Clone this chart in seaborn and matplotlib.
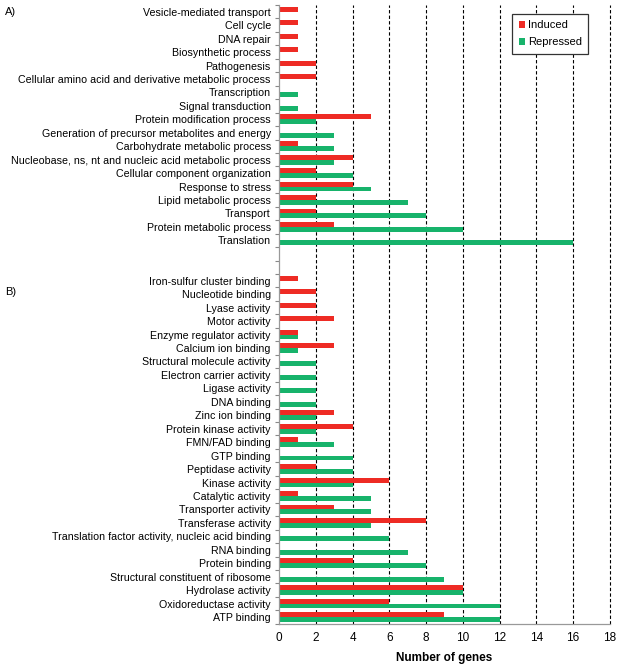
import matplotlib
matplotlib.use("Agg")
import matplotlib.pyplot as plt
import matplotlib.transforms as mtransforms
import numpy as np
import pandas as pd
import seaborn as sns

# A) biological process
categorias_a = ["Vesicle-mediated transport", "Cell cycle", "DNA repair",
                "Biosynthetic process", "Pathogenesis",
                "Cellular amino acid and derivative metabolic process",
                "Transcription", "Signal transduction",
                "Protein modification process",
                "Generation of precursor metabolites and energy",
                "Carbohydrate metabolic process",
                "Nucleobase, ns, nt and nucleic acid metabolic process",
                "Cellular component organization", "Response to stress",
                "Lipid metabolic process", "Transport",
                "Protein metabolic process", "Translation"]
inducidos_a = [1, 1, 1, 1, 2, 2, 0, 0, 5, 0, 1, 4, 2, 4, 2, 2, 3, 0]
reprimidos_a = [0, 0, 0, 0, 0, 0, 1, 1, 2, 3, 3, 3, 4, 5, 7, 8, 10, 16]

# B) molecular function
categorias_b = ["Iron-sulfur cluster binding", "Nucleotide binding",
                "Lyase activity", "Motor activity",
                "Enzyme regulator activity", "Calcium ion binding",
                "Structural molecule activity", "Electron carrier activity",
                "Ligase activity", "DNA binding", "Zinc ion binding",
                "Protein kinase activity", "FMN/FAD binding", "GTP binding",
                "Peptidase activity", "Kinase activity", "Catalytic activity",
                "Transporter activity", "Transferase activity",
                "Translation factor activity, nucleic acid binding",
                "RNA binding", "Protein binding",
                "Structural constituent of ribosome", "Hydrolase activity",
                "Oxidoreductase activity", "ATP binding"]
inducidos_b = [1, 2, 2, 3, 1, 3, 0, 0, 0, 0, 3, 4, 1, 0, 2, 6, 1, 3, 8,
               0, 0, 4, 0, 10, 6, 9]
reprimidos_b = [0, 0, 0, 0, 1, 1, 2, 2, 2, 2, 2, 2, 3, 4, 4, 4, 5, 5, 5,
                6, 7, 8, 9, 10, 12, 12]

# dos filas vacias entre A y B
huecos = [" ", "  "]

categorias = categorias_a + huecos + categorias_b
inducidos = inducidos_a + [0, 0] + inducidos_b
reprimidos = reprimidos_a + [0, 0] + reprimidos_b

df = pd.DataFrame({
    "categoria": categorias * 2,
    "genes": inducidos + reprimidos,
    "tipo": ["Induced"] * len(categorias) + ["Repressed"] * len(categorias),
})

plt.rcParams["font.family"] = ["Liberation Sans", "DejaVu Sans"]

fig = plt.figure(figsize=(6.19, 6.65), dpi=100)
ax = fig.add_axes([0.451, 0.062, 0.534, 0.9305])

sns.barplot(data=df, y="categoria", x="genes", hue="tipo", order=categorias,
            hue_order=["Induced", "Repressed"],
            palette={"Induced": "#ee2b24", "Repressed": "#17b36b"},
            width=0.72, orient="h", ax=ax, saturation=1)

n = len(categorias)
ax.set_ylim(n - 0.5, -0.5)
ax.set_xlim(0, 18)
ax.set_xticks(np.arange(0, 19, 2))
ax.tick_params(axis="x", length=0, labelsize=8.5, pad=6)

# ticks en los limites de categoria, etiquetas en el centro
ax.set_yticks(np.arange(-0.5, n, 1))
ax.set_yticklabels([])
ax.set_yticks(np.arange(n), minor=True)
ax.set_yticklabels(categorias, minor=True, fontsize=7.7)
ax.tick_params(axis="y", which="major", length=3, color="#888888", width=0.8)
ax.tick_params(axis="y", which="minor", length=0, pad=6)

ax.xaxis.grid(True, linestyle=(0, (3, 2)), color="black", linewidth=0.8)
ax.yaxis.grid(False)
ax.set_axisbelow(True)
for linea in ax.get_xgridlines():
    linea.set_clip_on(False)
ax.get_xgridlines()[0].set_visible(False)
for s in ["top", "right"]:
    ax.spines[s].set_visible(False)
for s in ["left", "bottom"]:
    ax.spines[s].set_color("#999999")
    ax.spines[s].set_linewidth(0.9)

ax.set_ylabel("")
ax.set_xlabel("Number of genes", fontsize=8.5, fontweight="bold", labelpad=6)

trans = mtransforms.blended_transform_factory(fig.transFigure, ax.transData)
ax.text(0.008, 0, "A)", transform=trans, fontsize=8, va="center", ha="left")
ax.text(0.008, len(categorias_a) + 2 + 0.8, "B)", transform=trans,
        fontsize=8, va="center", ha="left")

leg = ax.legend(loc="upper right", bbox_to_anchor=(0.952, 0.995), fontsize=8,
                handlelength=0.6, handleheight=0.6, handletextpad=0.2,
                fancybox=False, framealpha=1, borderpad=0.6, labelspacing=0.6)
leg.get_frame().set_edgecolor("#333333")
leg.get_frame().set_linewidth(0.9)

fig.savefig("out.png", dpi=100)
